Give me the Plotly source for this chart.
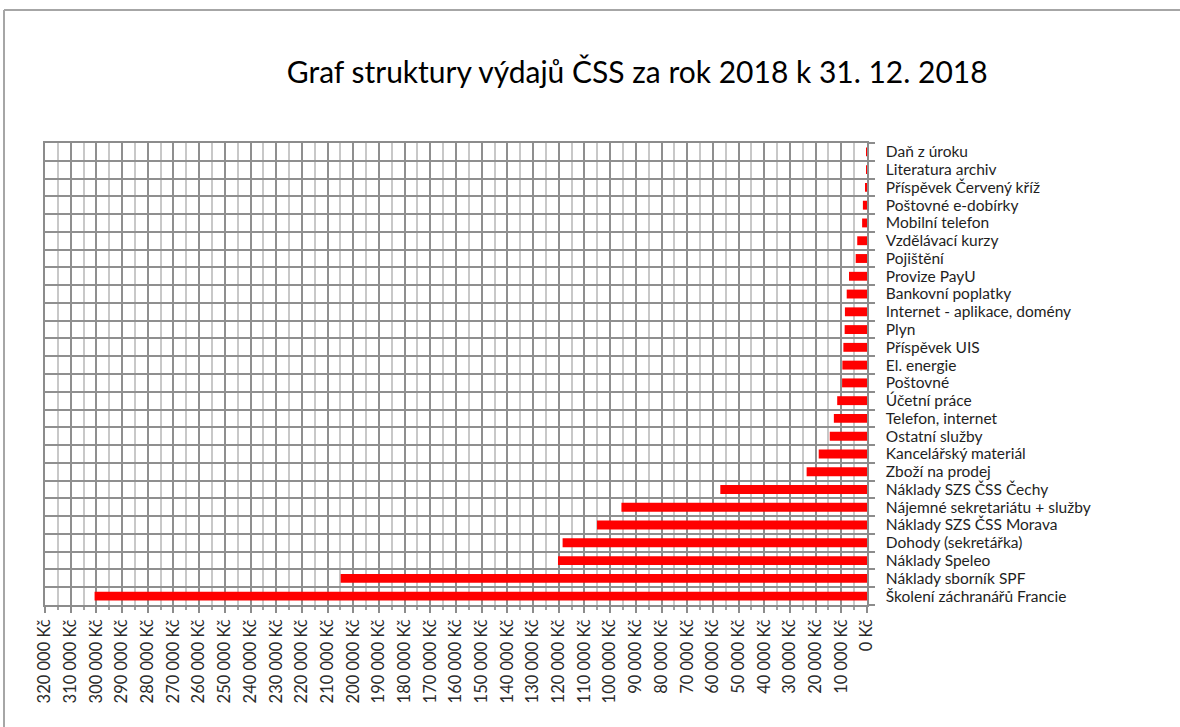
import plotly.graph_objects as go

# Categories listed from bottom to top
categories = [
    "Školení záchranářů Francie",
    "Náklady sborník SPF",
    "Náklady Speleo",
    "Dohody (sekretářka)",
    "Náklady SZS ČSS Morava",
    "Nájemné sekretariátu + služby",
    "Náklady SZS ČSS Čechy",
    "Zboží na prodej",
    "Kancelářský materiál",
    "Ostatní služby",
    "Telefon, internet",
    "Účetní práce",
    "Poštovné",
    "El. energie",
    "Příspěvek UIS",
    "Plyn",
    "Internet - aplikace, domény",
    "Bankovní poplatky",
    "Provize PayU",
    "Pojištění",
    "Vzdělávací kurzy",
    "Mobilní telefon",
    "Poštovné e-dobírky",
    "Příspěvek Červený kříž",
    "Literatura archiv",
    "Daň z úroku",
]
values = [
    300700, 204900, 120300, 118500, 105100, 95600, 57100, 23500, 18800, 14500,
    12900, 11600, 9700, 9600, 9200, 8700, 8600, 7900, 7000, 4400,
    3800, 1900, 1600, 500, 300, 50,
]

tick_vals = list(range(0, 320001, 10000))
tick_text = [("{:,}".format(v).replace(",", " ") + " Kč") for v in tick_vals]

FONT = "Lato"

fig = go.Figure(
    go.Bar(
        x=values,
        y=categories,
        orientation="h",
        marker=dict(color="#FF0000", line=dict(width=0)),
        hoverinfo="x+y",
    )
)

fig.update_layout(
    width=1180,
    height=727,
    paper_bgcolor="white",
    plot_bgcolor="white",
    margin=dict(l=45, r=313, t=143, b=122),
    bargap=0.5,
    showlegend=False,
    font=dict(family=FONT, size=16, color="#333333"),
    title=dict(
        text="Graf struktury výdajů ČSS za rok 2018 k 31. 12. 2018",
        font=dict(family=FONT, size=30, color="#000000"),
        x=0.54, xref="container", xanchor="center",
        y=0.90, yref="container", yanchor="middle",
    ),
    xaxis=dict(
        range=[320000, 0],
        tickmode="array",
        tickvals=tick_vals,
        ticktext=tick_text,
        tickangle=-90,
        ticks="outside",
        ticklen=6,
        tickwidth=1.5,
        tickcolor="#8c8c8c",
        showgrid=True,
        gridcolor="#8f8f8f",
        gridwidth=1.5,
        minor=dict(dtick=5000, tick0=0, showgrid=True, gridcolor="#c8c8c8",
                   gridwidth=1.5, ticks="outside", ticklen=3, tickcolor="#a0a0a0"),
        showline=True,
        linecolor="#8c8c8c",
        linewidth=1.5,
        mirror=True,
        zeroline=False,
        ticklabelstandoff=0,
        tickfont=dict(family=FONT, size=16.5, color="#2a2a2a"),
    ),
    yaxis=dict(
        side="right",
        type="category",
        categoryorder="array",
        categoryarray=categories,
        tickmode="linear",
        dtick=1,
        tickson="boundaries",
        ticks="outside",
        ticklen=6,
        tickwidth=1.5,
        tickcolor="#8c8c8c",
        showgrid=True,
        gridcolor="#8f8f8f",
        gridwidth=1.5,
        showline=True,
        linecolor="#8c8c8c",
        linewidth=1.5,
        mirror=True,
        ticklabelstandoff=14,
        tickfont=dict(family=FONT, size=15.5, color="#1e1e1e"),
    ),
    shapes=[
        dict(type="line", xref="paper", yref="paper",
             x0=(4 - 45) / 822, x1=(4 - 45) / 822,
             y0=(605 - 10) / 462, y1=(605 - 730) / 462,
             line=dict(color="#a6a6a6", width=2)),
        dict(type="line", xref="paper", yref="paper",
             x0=(4 - 45) / 822, x1=(1185 - 45) / 822,
             y0=(605 - 10) / 462, y1=(605 - 10) / 462,
             line=dict(color="#a6a6a6", width=2)),
    ],
)

fig.write_html("out.html", config={"displayModeBar": False},
               post_script="document.body.style.margin='0';")
